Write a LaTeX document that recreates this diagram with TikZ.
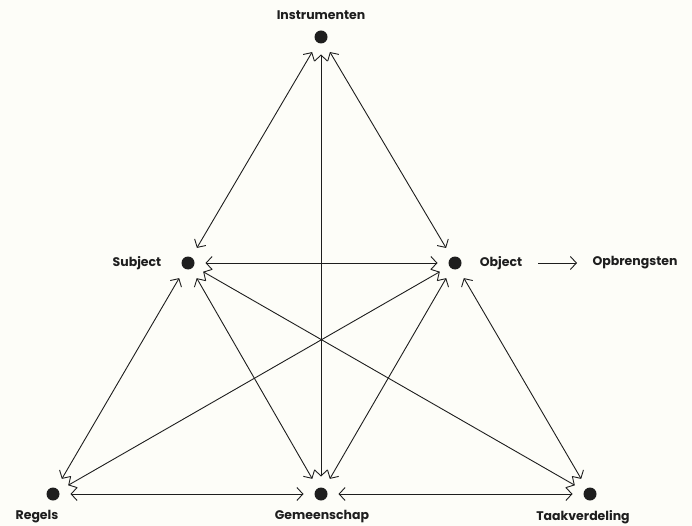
\documentclass[tikz,border=0pt]{standalone}
\usepackage{fontspec}
\setmainfont{Poppins}
\usetikzlibrary{arrows.meta}
\definecolor{bg}{HTML}{FDFDF8}
\definecolor{ink}{HTML}{1E1E1E}
\begin{document}
\begin{tikzpicture}[x=1pt,y=-1pt,
  dot/.style={circle,fill=ink,minimum size=13pt,inner sep=0pt,outer sep=0pt},
  lbl/.style={font=\fontsize{12.5}{14}\selectfont\bfseries,text=ink,inner sep=0pt},
  link/.style={draw=ink,line width=0.9pt,{Straight Barb[length=6pt,width=13pt]}-{Straight Barb[length=6pt,width=13pt]},shorten <=11pt,shorten >=11pt},
  one/.style={draw=ink,line width=0.9pt,-{Straight Barb[length=6pt,width=13pt]}}]
\fill[bg] (0,0) rectangle (692,526);
\useasboundingbox (0,0) rectangle (692,526);
\node[dot] (ins) at (321,37) {};
\node[dot] (sub) at (188,263) {};
\node[dot] (obj) at (455,263) {};
\node[dot] (reg) at (53,494) {};
\node[dot] (gem) at (321,494) {};
\node[dot] (taa) at (590,494) {};
\node[lbl] (lins) at (321,15) {Instrumenten};
\node[lbl] (lsub) at (137,263) {Subject};
\node[lbl] (lobj) at (501,263) {Object};
\node[lbl] (lopb) at (635,263) {Opbrengsten};
\node[lbl] (lreg) at (37,517) {Regels};
\node[lbl] (lgem) at (322,517) {Gemeenschap};
\node[lbl] (ltaa) at (583,517) {Taakverdeling};
\coordinate (a1) at (538,263);
\coordinate (a2) at (577,263);
\draw[one] (a1) -- (a2);
\draw[link] (ins) -- (sub);
\draw[link] (ins) -- (obj);
\draw[link] (ins) -- (gem);
\draw[link] (sub) -- (obj);
\draw[link] (sub) -- (reg);
\draw[link] (sub) -- (gem);
\draw[link] (sub) -- (taa);
\draw[link] (obj) -- (reg);
\draw[link] (obj) -- (gem);
\draw[link] (obj) -- (taa);
\draw[link] (reg) -- (gem);
\draw[link] (gem) -- (taa);
\end{tikzpicture}
\end{document}
